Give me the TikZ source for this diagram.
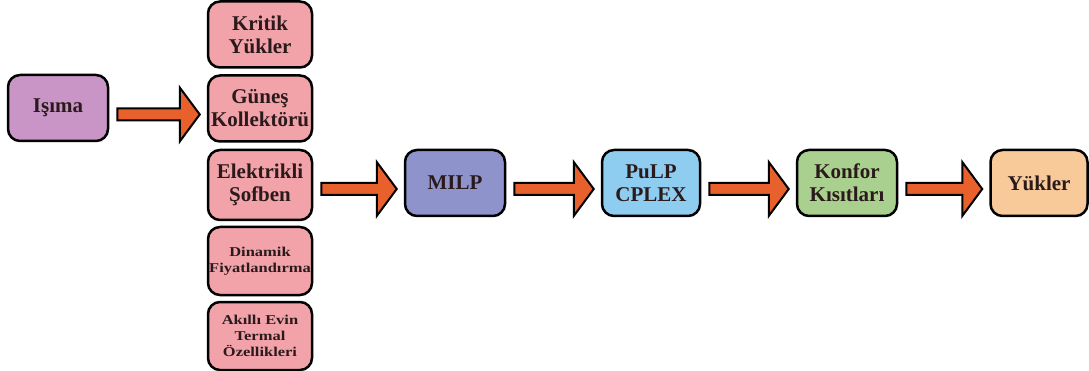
\documentclass[tikz,border=0pt]{standalone}
\usepackage{fontspec}
\setmainfont{Liberation Serif}
\newfontfamily\genisfont{Liberation Serif}[FakeStretch=1.22]
\usetikzlibrary{calc}

\definecolor{isimarenk}{HTML}{C995C6}
\definecolor{pembe}{HTML}{F2A3A9}
\definecolor{milprenk}{HTML}{8E93CC}
\definecolor{pulprenk}{HTML}{8ECDF0}
\definecolor{konforrenk}{HTML}{A9D08E}
\definecolor{yukrenk}{HTML}{F8C999}
\definecolor{okrenk}{HTML}{E8612C}
\definecolor{yazirenk}{HTML}{2B1A1C}

\tikzset{
  kutu/.style={draw=black, line width=2.5pt, rounded corners=12pt, align=center,
    text=yazirenk, font=\bfseries\fontsize{21}{23}\selectfont,
    minimum width=100pt, minimum height=66pt, inner sep=0pt},
  kucuk/.style={font=\genisfont\bfseries\fontsize{13.5}{16}\selectfont},
  okgovde/.style={draw=black, line width=2pt, fill=okrenk, line join=miter},
}

% kalin blok ok: #1 kaynak, #2 hedef
\newcommand\blokok[2]{%
  \coordinate (s) at ($(#1.east |- #2.west)+(8,6)$);
  \coordinate (t) at ($(#2.west)+(-7,6)$);
  \draw[okgovde] ($(s)+(0,-6)$) -- ($(t)+(-20,-6)$) -- ($(t)+(-20,-27)$) -- (t)
    -- ($(t)+(-20,27)$) -- ($(t)+(-20,6)$) -- ($(s)+(0,6)$) -- cycle;}

\begin{document}
\begin{tikzpicture}[x=1pt,y=-1pt]
  \useasboundingbox (0,0) rectangle (1089,371);

  \node[kutu, fill=isimarenk] (isima) at (58,108) {Işıma};

  % sol sutun
  \node[kutu, fill=pembe, minimum width=104pt] (kritik) at (260,34.5) {Kritik\\Yükler};
  \node[kutu, fill=pembe, minimum width=104pt] (gunes) at (260,108.5) {Güneş\\Kollektörü};
  \node[kutu, fill=pembe, minimum width=104pt, minimum height=70pt] (sofben) at (260,185) {Elektrikli\\Şofben};
  \node[kutu, kucuk, fill=pembe, minimum width=104pt, minimum height=68pt] (dinamik) at (260,261) {Dinamik\\Fiyatlandırma};
  \node[kutu, kucuk, fill=pembe, minimum width=104pt, minimum height=68pt] (termal) at (260,336) {Akıllı Evin\\Termal\\Özellikleri};

  \node[kutu, fill=milprenk] (milp) at (455,183) {MILP};
  \node[kutu, fill=pulprenk, minimum width=98pt] (pulp) at (651,183) {PuLP\\CPLEX};
  \node[kutu, fill=konforrenk] (konfor) at (847,183) {Konfor\\Kısıtları};
  \node[kutu, fill=yukrenk, minimum width=97pt] (yukler) at (1039,183) {Yükler};

  \blokok{isima}{gunes}
  \blokok{sofben}{milp}
  \blokok{milp}{pulp}
  \blokok{pulp}{konfor}
  \blokok{konfor}{yukler}
\end{tikzpicture}
\end{document}
